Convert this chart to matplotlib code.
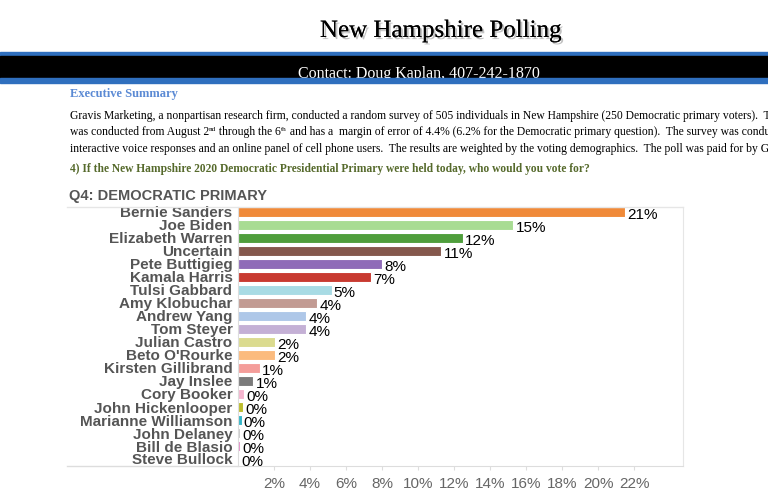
import matplotlib
matplotlib.use("Agg")
import matplotlib.pyplot as plt
import matplotlib.patheffects as pe
from matplotlib.patches import Rectangle
from matplotlib.lines import Line2D

candidates = ["Bernie Sanders", "Joe Biden", "Elizabeth Warren", "Uncertain",
              "Pete Buttigieg", "Kamala Harris", "Tulsi Gabbard", "Amy Klobuchar",
              "Andrew Yang", "Tom Steyer", "Julian Castro", "Beto O'Rourke",
              "Kirsten Gillibrand", "Jay Inslee", "Cory Booker", "John Hickenlooper",
              "Marianne Williamson", "John Delaney", "Bill de Blasio", "Steve Bullock"]
shares = [21.5, 15.3, 12.5, 11.3, 8.0, 7.4, 5.2, 4.4, 3.8, 3.8,
          2.05, 2.05, 1.2, 0.85, 0.35, 0.3, 0.2, 0.12, 0.1, 0.05]
labels = ["21%", "15%", "12%", "11%", "8%", "7%", "5%", "4%", "4%", "4%",
          "2%", "2%", "1%", "1%", "0%", "0%", "0%", "0%", "0%", "0%"]
colors = ["#f08a39", "#a8dc93", "#4f9e3c", "#85584d", "#8f6bb8", "#c83a30",
          "#a8dbe4", "#c29b93", "#aec7e8", "#c4b0d5", "#dbdb8f", "#fbbb7e",
          "#f49d9a", "#7b7b7b", "#f5b5cf", "#bcbd2c", "#33b5c9", "#c9c9c9",
          "#e48ac6", "#a8dbe4"]
ticks = [2, 4, 6, 8, 10, 12, 14, 16, 18, 20, 22]

W, H = 768, 500
fig = plt.figure(figsize=(W / 100, H / 100), dpi=100)
renderer = fig.canvas.get_renderer()

def fx(x):
    return x / W

def fy(y):
    return 1 - y / H

serif = "Liberation Serif"

def run_text(x, y, parts, size, **kw):
    # draw text pieces one after another; (text, True) pieces are superscripts
    for s, sup in parts:
        if sup:
            t = fig.text(x, y + 4.5 / H, s, family=serif, fontsize=size * 0.62, va="baseline", **kw)
        else:
            t = fig.text(x, y, s, family=serif, fontsize=size, va="baseline", **kw)
        bb = t.get_window_extent(renderer)
        x += bb.width / W

# header
t = fig.text(fx(441), fy(37), "New Hampshire Polling", family=serif, fontsize=18,
             ha="center", va="baseline", color="black")
t.set_path_effects([pe.withSimplePatchShadow(offset=(1.5, -1.5), shadow_rgbFace="#999999", alpha=0.6),
                    pe.Normal()])
fig.patches.append(Rectangle((0, fy(56)), 1, fy(51.5) - fy(56), transform=fig.transFigure,
                             color="#2f6fbe", zorder=1))
fig.patches.append(Rectangle((0, fy(77.5)), 1, fy(56) - fy(77.5), transform=fig.transFigure,
                             color="black", zorder=1))
fig.text(fx(298), fy(78.5), "Contact: Doug Kaplan, 407-242-1870", family=serif, fontsize=11.5,
         color="white", ha="left", va="baseline", zorder=2)
fig.patches.append(Rectangle((0, fy(82.5)), 1, fy(77.5) - fy(82.5), transform=fig.transFigure,
                             color="#2f6fbe", zorder=3))

fig.text(fx(70), fy(97), "Executive Summary", family=serif, fontsize=9, weight="bold",
         color="#5b8ad4", va="baseline")
para = [
    [("Gravis Marketing, a nonpartisan research firm, conducted a random survey of 505 individuals in New Hampshire (250 Democratic primary voters).  The survey", False)],
    [("was conducted from August 2", False), ("nd", True), (" through the 6", False), ("th", True),
     (" and has a  margin of error of 4.4% (6.2% for the Democratic primary question).  The survey was conducted using", False)],
    [("interactive voice responses and an online panel of cell phone users.  The results are weighted by the voting demographics.  The poll was paid for by GMI", False)],
]
for i, line in enumerate(para):
    run_text(fx(70), fy(119 + 16.5 * i), line, 8.4, color="black")
fig.text(fx(70), fy(172), "4) If the New Hampshire 2020 Democratic Presidential Primary were held today, who would you vote for?",
         family=serif, fontsize=8.3, weight="bold", color="#566a2c", va="baseline")

fig.text(fx(69), fy(200), "Q4: DEMOCRATIC PRIMARY", family="Liberation Sans", fontsize=10.5,
         weight="bold", color="#555555", va="baseline")

# chart
left, right, top, bottom = 238, 683, 207, 466
ax = fig.add_axes([fx(left), fy(bottom), fx(right - left), fy(top) - fy(bottom)])
n = len(candidates)
pos = list(range(n))
ax.barh(pos, shares, height=0.78, color=colors, edgecolor="white", linewidth=0.8)
ax.set_xlim(0, (right - left) / 18.0)
ax.set_ylim((bottom - 212) / 13.0, (top - 212) / 13.0)
ax.set_yticks(pos)
ax.set_yticklabels(candidates, family="Liberation Sans", fontsize=11, weight="bold", color="#555555")
ax.tick_params(axis="y", length=0, pad=4)
ax.set_xticks(ticks)
ax.set_xticklabels([f"{v}%" for v in ticks], family="Liberation Sans", fontsize=11, color="#666666")
ax.tick_params(axis="x", length=3, color="#dddddd", pad=5)
ax.spines["top"].set_visible(False)
ax.spines["right"].set_color("#e6e6e6")
ax.spines["left"].set_color("#dddddd")
ax.spines["bottom"].set_color("#dddddd")
for p, v, lab in zip(pos, shares, labels):
    ax.text(v + 0.12, p + 0.2, lab, family="Liberation Sans", fontsize=11, color="black",
            ha="left", va="center")

# frame lines extending left of the axis
fig.lines.append(Line2D([fx(67), fx(right)], [fy(top), fy(top)], transform=fig.transFigure,
                        color="#e6e6e6", linewidth=1))
fig.lines.append(Line2D([fx(67), fx(left)], [fy(bottom), fy(bottom)], transform=fig.transFigure,
                        color="#dddddd", linewidth=1))

fig.savefig("out.png", dpi=100)
